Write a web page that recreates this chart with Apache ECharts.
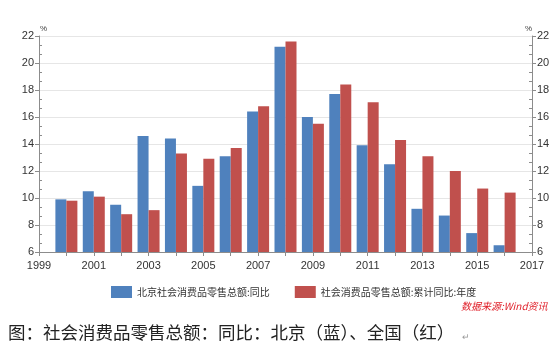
<!DOCTYPE html>
<html>
<head>
<meta charset="utf-8">
<script src="https://cdn.jsdelivr.net/npm/echarts@6/dist/echarts.min.js"></script>
<style>html,body{margin:0;padding:0;background:#fff;}#c{width:560px;height:360px;}</style>
</head>
<body>
<div id="c"></div>
<script>
var years = ['1999','2000','2001','2002','2003','2004','2005','2006','2007','2008','2009','2010','2011','2012','2013','2014','2015','2016','2017'];
var beijing = [null, 9.9, 10.5, 9.5, 14.6, 14.4, 10.9, 13.1, 16.4, 21.2, 16.0, 17.7, 13.9, 12.5, 9.2, 8.7, 7.4, 6.5, null];
var national = [null, 9.8, 10.1, 8.8, 9.1, 13.3, 12.9, 13.7, 16.8, 21.6, 15.5, 18.4, 17.1, 14.3, 13.1, 12.0, 10.7, 10.4, null];
var seriesNames = ['北京社会消费品零售总额:同比', '社会消费品零售总额:累计同比:年度'];
var yMin = 6, yMax = 22, yStep = 2;
var unitLabel = '%';
var sourceText = '数据来源:Wind资讯';
var captionText = '图：社会消费品零售总额：同比：北京（蓝）、全国（红）';

var chart = echarts.init(document.getElementById('c'), null, {renderer: 'canvas'});
var font = 'Liberation Sans, Arial, sans-serif';
var axisCol = '#8c8c8c';
function mainY(pos, split) {
  return {
    type: 'value', position: pos, min: yMin, max: yMax, interval: yStep,
    axisLine: {show: true, lineStyle: {color: axisCol}},
    axisTick: {show: true, length: 4, lineStyle: {color: axisCol}},
    axisLabel: {fontSize: 11, color: '#333', fontFamily: font, margin: 5},
    splitLine: {show: split, lineStyle: {color: '#e6e6e6'}}
  };
}
function minorY(pos) {
  return {
    type: 'value', position: pos, min: yMin, max: yMax, interval: yStep,
    axisLine: {show: false},
    axisTick: {show: false, inside: true},
    minorTick: {show: true, splitNumber: 3, length: 3, lineStyle: {color: axisCol}},
    axisLabel: {show: false},
    splitLine: {show: false}
  };
}
chart.setOption({
  animation: false,
  grid: {left: 39, right: 28, top: 36, bottom: 108, containLabel: false},
  legend: {
    left: 106, top: 281, itemWidth: 21, itemHeight: 12, itemGap: 25,
    icon: 'rect',
    textStyle: {fontSize: 10, color: '#333', fontFamily: 'Noto Sans CJK SC, sans-serif'},
    data: seriesNames
  },
  xAxis: {
    type: 'category', data: years, boundaryGap: false,
    axisLine: {show: true, lineStyle: {color: axisCol}},
    axisTick: {show: true, interval: 0, length: 4, lineStyle: {color: axisCol}},
    axisLabel: {interval: 1, fontSize: 11, color: '#333', fontFamily: font, margin: 8},
    splitLine: {show: false}
  },
  yAxis: [mainY('left', true), mainY('right', false), minorY('left'), minorY('right')],
  series: [
    {name: seriesNames[0], type: 'bar', data: beijing, barWidth: 11, barGap: '0%', itemStyle: {color: '#4F81BD'}},
    {name: seriesNames[1], type: 'bar', data: national, barWidth: 11, barGap: '0%', itemStyle: {color: '#C0504D'}}
  ],
  graphic: [
    {type: 'text', left: 40, top: 25, style: {text: unitLabel, fontSize: 8, fill: '#404040', fontFamily: font}},
    {type: 'text', left: 525, top: 25, style: {text: unitLabel, fontSize: 8, fill: '#404040', fontFamily: font}},
    {type: 'text', left: 461, top: 301, style: {text: sourceText, fontSize: 10, fontStyle: 'italic', fill: '#e0202a', fontFamily: 'Noto Sans CJK SC, sans-serif'}},
    {type: 'text', left: 8, top: 324, style: {text: captionText, fontSize: 17.5, fill: '#222', fontFamily: 'Noto Sans CJK SC, sans-serif'}},
    {type: 'text', left: 462, top: 333, style: {text: '↵', fontSize: 9, fill: '#999', fontFamily: font}}
  ]
});
</script>
</body>
</html>
